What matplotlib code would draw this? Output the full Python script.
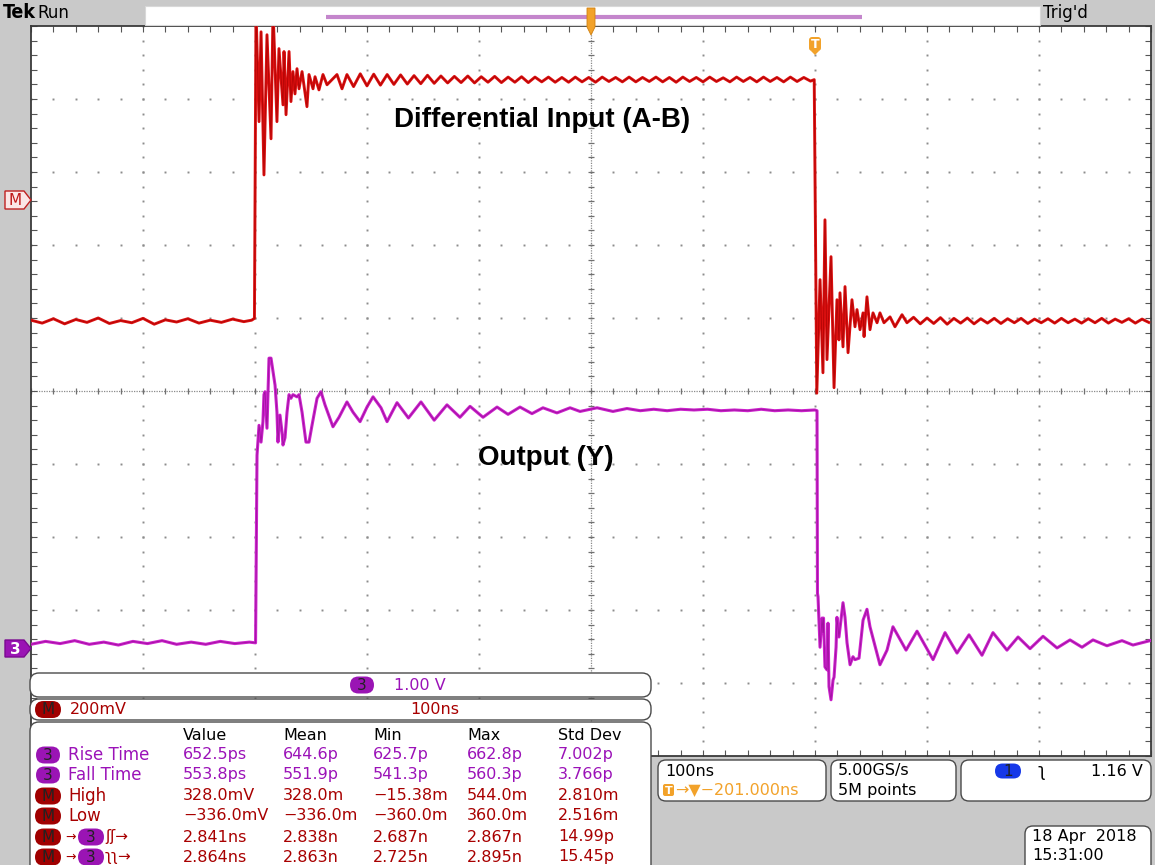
import numpy as np
import matplotlib

matplotlib.use("Agg")
import matplotlib.pyplot as plt
from matplotlib.patches import FancyBboxPatch, Polygon, Rectangle

# ---------------------------------------------------------------------------
# Waveform data
# time: ns from left edge of screen (100 ns/div), red: mV, magenta: V
# ---------------------------------------------------------------------------

# red trace (M = A-B, 200 mV/div)
red_low_left_t0, red_low_left_dt = 0, 10
red_low_left_mv = [-330, -338, -326, -340, -328, -336, -324, -339, -331, -337,
                   -325, -341, -329, -335, -326, -338, -330, -336, -327, -334]

red_rise_t = [197.0, 199.5, 200.9, 203.6, 205.4, 208.0, 210.7, 214.3, 216.1,
              219.6, 221.4, 225.0, 225.9, 227.7, 230.4, 232.1, 233.9, 235.7,
              237.5, 239.3, 242.0, 246.4, 248.2, 251.8, 253.6, 257.1, 260.7,
              264.3, 273.2, 277.7, 282.1]
red_rise_mv = [-330, -325, 520, 214, 460, 68, 452, 167, 520,
               214, 414, 260, 406, 233, 406, 269, 351, 290,
               359, 304, 351, 255, 343, 304, 337, 301, 343,
               315, 343, 304, 343]

red_high_t0, red_high_dt = 288, 6
red_high_mv = [310, 345, 312, 344, 314, 343, 316, 342, 317, 340,
               318, 341, 319, 339, 320, 338, 321, 339, 320, 337,
               322, 338, 321, 336, 322, 337, 321, 336, 323, 336,
               322, 335, 322, 336, 323, 335, 322, 336, 324, 335,
               323, 336, 323, 335, 324, 336, 323, 335, 322, 336,
               324, 335, 323, 336, 324, 334, 323, 336, 324, 335,
               323, 336, 324, 335, 323, 336, 324, 335, 325]

red_fall_t = [699.3, 701.6, 704.5, 707.1, 708.9, 710.7, 714.3, 717.0, 719.6,
              721.4, 722.3, 725.0, 726.8, 729.5, 733.0, 735.7, 737.5, 740.2,
              742.9, 743.8, 746.4, 749.1, 751.8, 755.4, 758.0, 761.6, 767.0,
              771.4, 777.7, 782.1]
red_fall_mv = [329, -530, -219, -474, -55, -438, -156, -515, -274,
               -384, -255, -403, -238, -419, -274, -348, -301, -356,
               -310, -375, -266, -356, -310, -337, -310, -337, -321,
               -348, -315, -337]

red_low_right_t0, red_low_right_dt = 788, 6
red_low_right_mv = [-322, -340, -324, -339, -323, -341, -325, -338, -324, -340,
                    -326, -338, -325, -339, -326, -337, -325, -339, -327, -337,
                    -326, -338, -325, -337, -327, -338, -326, -337, -325, -338,
                    -327, -336, -326, -338, -327, -336]

# magenta trace (channel 3 = Y, 1 V/div)
mag_low_left_t0, mag_low_left_dt = 0, 13
mag_low_left_v = [0.05, 0.09, 0.06, 0.10, 0.05, 0.08, 0.04, 0.09,
                  0.06, 0.10, 0.05, 0.08, 0.05, 0.09, 0.06, 0.08]

mag_rise_t = [200.5, 201.8, 203.6, 205.4, 207.1, 208.0, 208.9, 210.7, 212.5,
              214.3, 216.1, 217.9, 219.6, 220.5, 222.3, 224.1, 225.0, 226.8,
              228.6, 230.4, 232.1, 233.9, 237.5, 239.3, 242.0, 245.5, 248.2,
              250.9, 255.4, 258.9, 262.5, 269.6, 275.0, 282.1, 287.5, 293.8,
              300.0, 305.4, 312.5, 317.9, 326.8, 337.0, 348.2, 360.0, 371.4,
              383.0, 392.0, 403.6, 416.1, 425.9, 436.6, 447.3, 457.1, 469.6,
              481.3, 490.2, 505.4, 519.6, 532.1]
mag_rise_v = [0.07, 2.64, 3.05, 2.82, 3.10, 3.47, 3.51, 3.01, 3.97,
              3.97, 3.78, 3.60, 3.23, 2.82, 3.19, 2.96, 2.78, 2.88,
              3.23, 3.47, 3.42, 3.47, 3.44, 3.47, 3.23, 2.82, 2.82,
              3.05, 3.42, 3.51, 3.33, 3.03, 3.16, 3.37, 3.23, 3.10,
              3.30, 3.44, 3.29, 3.10, 3.36, 3.15, 3.37, 3.12, 3.33,
              3.16, 3.31, 3.16, 3.30, 3.20, 3.30, 3.21, 3.29, 3.22,
              3.29, 3.24, 3.29, 3.24, 3.28]

mag_high_t0, mag_high_dt = 544, 12
mag_high_v = [3.25, 3.27, 3.25, 3.27, 3.26, 3.27, 3.25,
              3.26, 3.25, 3.27, 3.25, 3.26, 3.25, 3.26]

mag_fall_t = [701.8, 702.2, 702.7, 704.5, 706.3, 707.1, 707.6, 708.9, 710.7,
              711.6, 712.5, 714.3, 716.1, 717.0, 718.8, 719.6, 721.4, 725.0,
              726.8, 728.6, 731.3, 733.9, 735.7, 739.3, 742.9, 746.4, 749.1,
              758.0, 764.3, 769.6, 781.3, 791.1, 805.4, 816.1, 826.8, 837.5,
              849.1, 858.9, 871.4, 881.3, 892.0, 903.6, 916.1, 927.7, 938.4,
              948.2, 960.7, 974.1, 983.9, 999.1]
mag_fall_v = [3.25, 0.75, 0.70, 0.01, 0.41, 0.21, 0.41, -0.26, -0.30,
              0.34, -0.53, -0.71, -0.44, -0.40, 0.01, 0.42, 0.15, 0.62,
              0.42, 0.07, -0.23, -0.12, -0.16, -0.14, 0.38, 0.53, 0.29,
              -0.23, -0.03, 0.29, -0.03, 0.23, -0.16, 0.21, -0.07, 0.18,
              -0.10, 0.21, -0.03, 0.15, -0.01, 0.16, 0.00, 0.11, 0.01,
              0.11, 0.03, 0.10, 0.04, 0.10]

# measurement readout
meas_header = ["Value", "Mean", "Min", "Max", "Std Dev"]
meas_source = ["3", "3", "M", "M", "M3r", "M3f"]
meas_names = ["Rise Time", "Fall Time", "High", "Low", "", ""]
meas_value = ["652.5ps", "553.8ps", "328.0mV", "\u2212336.0mV", "2.841ns", "2.864ns"]
meas_mean = ["644.6p", "551.9p", "328.0m", "\u2212336.0m", "2.838n", "2.863n"]
meas_min = ["625.7p", "541.3p", "\u221215.38m", "\u2212360.0m", "2.687n", "2.725n"]
meas_max = ["662.8p", "560.3p", "544.0m", "360.0m", "2.867n", "2.895n"]
meas_std = ["7.002p", "3.766p", "2.810m", "2.516m", "14.99p", "15.45p"]

# ---------------------------------------------------------------------------
# Styling
# ---------------------------------------------------------------------------
W, H = 1155, 865
GRAY = "#c9c9c9"
RED = "#dc1010"
RED_CORE = "#a00000"
MAG = "#cc22cc"
MAG_CORE = "#8c0a8c"
PURPLE = "#9b12b8"
DKRED = "#a80000"
ORANGE = "#f2a22a"
FONT = ["DejaVu Sans"]
BOLD_FONT = ["Liberation Sans", "DejaVu Sans"]

red_mv_per_div = 200.0
mag_v_per_div = 1.0
red_ground_div = 2.62
mag_ground_div = -3.52


def series(t0, dt, vals):
    return t0 + dt * np.arange(len(vals)), np.asarray(vals, dtype=float)


red_parts = [
    series(red_low_left_t0, red_low_left_dt, red_low_left_mv),
    (np.array(red_rise_t), np.array(red_rise_mv, dtype=float)),
    series(red_high_t0, red_high_dt, red_high_mv),
    (np.array(red_fall_t), np.array(red_fall_mv, dtype=float)),
    series(red_low_right_t0, red_low_right_dt, red_low_right_mv),
]
red_t = np.concatenate([p[0] for p in red_parts])
red_mv = np.concatenate([p[1] for p in red_parts])

mag_parts = [
    series(mag_low_left_t0, mag_low_left_dt, mag_low_left_v),
    (np.array(mag_rise_t), np.array(mag_rise_v)),
    series(mag_high_t0, mag_high_dt, mag_high_v),
    (np.array(mag_fall_t), np.array(mag_fall_v)),
]
mag_t = np.concatenate([p[0] for p in mag_parts])
mag_v = np.concatenate([p[1] for p in mag_parts])

fig = plt.figure(figsize=(W / 100, H / 100), dpi=100, facecolor=GRAY)

# graticule: 10 x 10 divisions
ax = fig.add_axes([31 / W, (H - 756) / H, 1120 / W, 730 / H])
ax.set_facecolor("white")
ax.set_xlim(0, 1000)
ax.set_ylim(-5, 5)

dot_y = np.arange(-5, 5.001, 0.2)
dot_x = np.arange(0, 1000.1, 20)
for gx in range(100, 1000, 100):
    if gx != 500:
        ax.plot(np.full_like(dot_y, gx), dot_y, ls="none", marker="s",
                ms=1.4, mew=0, color="#8c8c8c", zorder=1)
for gy in range(-4, 5):
    if gy != 0:
        ax.plot(dot_x, np.full_like(dot_x, gy), ls="none", marker="s",
                ms=1.4, mew=0, color="#8c8c8c", zorder=1)

# centre crosshair with minor ticks
ax.axhline(0, color="#8a8a8a", lw=0.9, ls=(0, (1, 1)), zorder=1)
ax.axvline(500, color="#8a8a8a", lw=0.9, ls=(0, (1, 1)), zorder=1)
ax.vlines(dot_x, -0.045, 0.045, color="#707070", lw=0.9, zorder=1)
ax.hlines(dot_y, 497, 503, color="#707070", lw=0.9, zorder=1)

ax.set_xticks(dot_x)
ax.set_yticks(dot_y)
ax.tick_params(direction="in", length=4, width=0.8, color="#555555",
               top=True, right=True, labelbottom=False, labelleft=False)
for s in ax.spines.values():
    s.set_color("#3a3a3a")
    s.set_linewidth(1.3)

red_y = red_ground_div + red_mv / red_mv_per_div
mag_y = mag_ground_div + mag_v / mag_v_per_div
ax.plot(red_t, red_y, color=RED, lw=2.1, zorder=3)
ax.plot(red_t, red_y, color=RED_CORE, lw=0.6, alpha=0.7, zorder=3)
ax.plot(mag_t, mag_y, color=MAG, lw=2.2, zorder=4)
ax.plot(mag_t, mag_y, color=MAG_CORE, lw=0.6, alpha=0.7, zorder=4)

# ---------------------------------------------------------------------------
# Overlay in screen pixels
# ---------------------------------------------------------------------------
ov = fig.add_axes([0, 0, 1, 1])
ov.set_xlim(0, W)
ov.set_ylim(H, 0)
ov.axis("off")


def box(x0, y0, x1, y1, r=8, fc="white", ec="#4a4a4a", lw=1.0):
    ov.add_patch(FancyBboxPatch((x0 + r, y0 + r), x1 - x0 - 2 * r,
                                y1 - y0 - 2 * r,
                                boxstyle=f"round,pad={r},rounding_size={r}",
                                fc=fc, ec=ec, lw=lw, zorder=5))


def txt(x, y, s, color="black", fs=12, z=10, **kw):
    ov.text(x, y, s, ha=kw.pop("ha", "left"), va="center", fontsize=fs,
            color=color, family=kw.pop("family", FONT), zorder=z, **kw)


def pill(xc, yc, label, fc, tc="#222222", w=24, h=17, fs=11):
    r = h / 2
    ov.add_patch(FancyBboxPatch((xc - w / 2 + r, yc), w - h, 0.01,
                                boxstyle=f"round,pad={r - 0.01}",
                                fc=fc, ec="none", zorder=8))
    txt(xc, yc + 0.5, label, color=tc, fs=fs, ha="center")


# top status bar
ov.add_patch(Rectangle((145, 6), 895, 19, fc="white", ec="#d8d8d8",
                       lw=0.8, zorder=5))
ov.plot([326, 862], [16.5, 16.5], color="#c486cc", lw=3, zorder=6,
        solid_capstyle="butt")
ov.add_patch(Polygon([(587, 8), (595, 8), (595, 27), (591, 35), (587, 27)],
                     closed=True, fc=ORANGE, ec="#d08010", lw=0.6, zorder=8))
txt(3, 13, "Tek", fs=14, fontweight="bold", fontstretch="condensed")
txt(37, 13, "Run", fs=12)
txt(1043, 13, "Trig'd", fs=12)

# trigger point marker
ov.add_patch(FancyBboxPatch((809, 37), 12, 14,
                            boxstyle="round,pad=0,rounding_size=3",
                            fc=ORANGE, ec="none", zorder=8))
ov.add_patch(Polygon([(811, 51), (819, 51), (815, 55)], closed=True,
                     fc=ORANGE, ec="none", zorder=8))
txt(815, 44, "T", color="white", fs=9, ha="center", fontweight="bold")

# channel ground markers on the left
ov.add_patch(Polygon([(5, 191), (24, 191), (31, 200), (24, 209), (5, 209)],
                     closed=True, fc="#fbe6e6", ec="#c02020", lw=1, zorder=8))
txt(15, 200.5, "M", color="#c01818", fs=11, ha="center")
ov.add_patch(Polygon([(5, 640), (24, 640), (31, 648.5), (24, 657), (5, 657)],
                     closed=True, fc="#9a14b4", ec="#7a0a90", lw=1, zorder=8))
txt(15, 649, "3", color="white", fs=11, ha="center", fontweight="bold")

# waveform labels
txt(542, 120, "Differential Input (A-B)", fs=20, ha="center",
    fontweight="bold", family=BOLD_FONT)
txt(546, 458, "Output (Y)", fs=20, ha="center", fontweight="bold",
    family=BOLD_FONT)

# vertical / horizontal readouts
box(30, 673, 651, 697, r=9)
pill(362, 685, "3", "#9a14b4")
txt(394, 685.5, f"{mag_v_per_div:.2f} V", color=PURPLE, fs=11.5)
box(30, 699, 651, 720, r=9)
pill(48, 709.5, "M", "#a00000", w=26)
txt(70, 710, f"{red_mv_per_div:.0f}mV", color=DKRED, fs=11.5)
txt(410, 710, "100ns", color=DKRED, fs=11.5)

# measurement table
box(30, 722, 651, 880, r=9)
col_x = [183, 283, 373, 467, 558]
for x, h in zip(col_x, meas_header):
    txt(x, 735, h, fs=11.5)
row_y = [755, 775, 796, 816, 837, 857]
for i, y in enumerate(row_y):
    src = meas_source[i]
    color = PURPLE if src == "3" else DKRED
    if src == "3":
        pill(48, y, "3", "#9a14b4")
        txt(68, y, meas_names[i], color=color, fs=12)
    elif src == "M":
        pill(48, y, "M", "#a00000", w=26)
        txt(68, y, meas_names[i], color=color, fs=12)
    else:
        pill(48, y, "M", "#a00000", w=26)
        txt(65, y, "\u2192", color=DKRED, fs=9)
        pill(91, y, "3", "#9a14b4", w=26)
        sym = "\u0283\u0283\u2192" if src == "M3r" else "\u0285\u0285\u2192"
        txt(105, y, sym, color=DKRED, fs=11)
    for x, col in zip(col_x, [meas_value, meas_mean, meas_min, meas_max,
                              meas_std]):
        txt(x, y, col[i], color=color, fs=11.5)

# timebase / acquisition / trigger readouts
box(658, 760, 826, 801, r=8)
txt(665, 771, "100ns", fs=11.5)
ov.add_patch(FancyBboxPatch((663, 784), 11, 12,
                            boxstyle="round,pad=0,rounding_size=2",
                            fc=ORANGE, ec="none", zorder=8))
txt(668.5, 790.5, "T", color="white", fs=8, ha="center", fontweight="bold")
txt(675, 790, "\u2192\u25bc\u2212201.000ns", color=ORANGE, fs=11.5)

box(831, 760, 956, 801, r=8)
txt(838, 771, "5.00GS/s", fs=11.5)
txt(838, 790, "5M points", fs=11.5)

box(961, 760, 1151, 801, r=8)
pill(1008, 771, "1", "#1638e8", w=26, h=15)
txt(1038, 771, "\u0285", fs=12, color="black")
txt(1143, 771, "1.16 V", fs=11.5, ha="right")

box(1025, 826, 1151, 880, r=8)
txt(1032, 836, "18 Apr  2018", fs=11.5)
txt(1032, 855, "15:31:00", fs=11.5)

fig.savefig("out.png", dpi=100, facecolor=GRAY)
